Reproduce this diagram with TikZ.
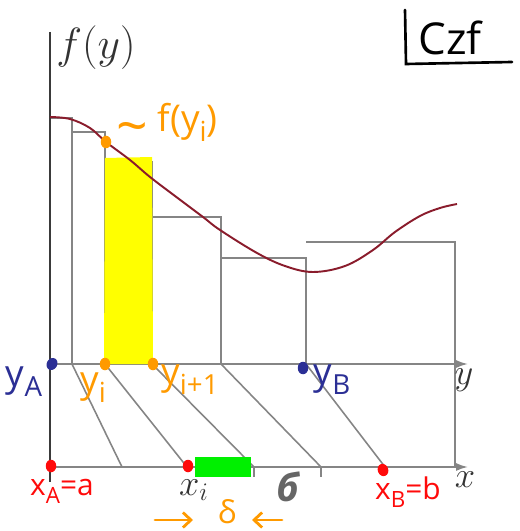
\documentclass[tikz,border=0pt]{standalone}
\usepackage{fontspec}
\newfontfamily\handfont{Open Sans}
\usetikzlibrary{arrows.meta, shapes.geometric}
\definecolor{hworange}{HTML}{FF9A00}
\definecolor{hwblue}{HTML}{2B2F95}
\definecolor{hwred}{HTML}{FF0A0A}
\definecolor{hlyellow}{HTML}{FFFF00}
\definecolor{hlgreen}{HTML}{00F000}
\definecolor{curvered}{HTML}{8A1C2C}
\definecolor{rectgray}{HTML}{858585}
\definecolor{axisgray}{HTML}{3A3A3A}
\newcommand{\hsub}[1]{\raisebox{-0.5ex}{\scalebox{0.75}{#1}}}
\begin{document}
\begin{tikzpicture}[x=0.2mm, y=-0.2mm,
  >={Latex[length=2.4mm, width=1.6mm]},
  every node/.style={inner sep=0pt},
  hand/.style={font=\handfont\fontsize{21}{23}\selectfont},
  handsmall/.style={font=\handfont\fontsize{17}{19}\selectfont},
  mathlbl/.style={font=\huge, text=black!80},
  stepline/.style={rectgray, line width=0.9pt},
  hwdot/.style={ellipse, minimum width=2.1mm, minimum height=2.5mm},
  hwarrow/.style={hworange, line width=1.6pt, line cap=round, -{Straight Barb[length=1.6mm, width=3mm]}},
]
\useasboundingbox (0,0) rectangle (519,531);

% Points on the axes
\coordinate (yA) at (50,364);
\coordinate (y1) at (72,364);
\coordinate (yi) at (105,364);
\coordinate (yip) at (152,364);
\coordinate (y4) at (221,364);
\coordinate (yB) at (306,364);
\coordinate (xA) at (50,467);
\coordinate (x1) at (122,467);
\coordinate (xi) at (187,467);
\coordinate (x3) at (254,467);
\coordinate (x4) at (321,467);
\coordinate (xB) at (385,467);

% Step function
\draw[stepline] (50,118) -- (72,118) -- (y1);
\draw[stepline] (72,132) -- (105,132) -- (yi);
\draw[stepline] (105,162) -- (152,162) -- (yip);
\draw[stepline] (152,217) -- (221,217) -- (y4);
\draw[stepline] (221,258) -- (306,258) -- (yB);
\draw[stepline] (306,242) -- (455,242) -- (455,467);

% Slanted lines y -> x
\draw[stepline] (y1) -- (x1);
\draw[stepline] (yi) -- (xi);
\draw[stepline] (yip) -- (x3);
\draw[stepline] (y4) -- (x4);
\draw[stepline] (yB) -- (xB);
\draw[stepline] (x3) -- ++(0,10);
\draw[stepline] (x4) -- ++(0,10);

% Axes
\draw[axisgray, line width=1.6pt] (50,32) -- (50,482);
\draw[rectgray, line width=1pt, ->] (yA) -- (468,364);
\draw[rectgray, line width=1pt, ->] (xA) -- (468,467);

% Highlights
\fill[hlyellow] (105,158) -- (152,157) -- (153,364) -- (104,364) -- cycle;
\fill[hlgreen] (195,457) rectangle (251,477);

% f(y)
\draw[curvered, line width=1.1pt] plot[smooth, tension=0.6] coordinates {
  (50,117) (70,119) (90,128) (106,142) (130,160) (150,177) (175,196)
  (203,217) (220,230) (257,253) (285,266) (313,272) (345,266) (373,250)
  (395,232) (420,216) (440,208) (457,204)};

% Dots
\node[hwdot, fill=hworange] (dfyi) at (106,142) {};
\node[hwdot, fill=hworange] (dyi) at (105,364) {};
\node[hwdot, fill=hworange] (dyip) at (153,364) {};
\node[hwdot, fill=hwblue, rotate=-30] (dyA) at (52,364) {};
\node[hwdot, fill=hwblue] (dyB) at (303,368) {};
\node[hwdot, fill=hwred] (dxA) at (51,466) {};
\node[hwdot, fill=hwred] (dxi) at (188,466) {};
\node[hwdot, fill=hwred, rotate=20] (dxB) at (383,470) {};

% Printed labels
\node[mathlbl, font=\Huge, anchor=west] (fylbl) at (56,48) {$f(y)$};
\node[mathlbl] (ylbl) at (464,380) {$y$};
\node[mathlbl] (xlbl) at (465,480) {$x$};
\node[mathlbl] (xilbl) at (194,490) {$x_i$};
\node[font=\handfont\bfseries\itshape\fontsize{22}{24}\selectfont, text=black!60] (blbl) at (288,487) {б};

% Handwritten labels
\node[hand, text=hworange, anchor=west] (fyi) at (116,124) {\raisebox{-0.7ex}{\scalebox{1.5}{\textasciitilde}}\ f(y\hsub{i})};
\node[hand, text=hworange] (yilbl) at (93,388) {y\hsub{i}};
\node[hand, text=hworange] (yiplbl) at (190,380) {y\hsub{i+1}};
\node[hand, text=hwblue] (yAlbl) at (24,382) {y\hsub{A}};
\node[hand, text=hwblue] (yBlbl) at (332,380) {y\hsub{B}};
\node[handsmall, text=hwred] (xAlbl) at (62,491) {x\hsub{A}=a};
\node[handsmall, text=hwred] (xBlbl) at (408,492) {x\hsub{B}=b};
\node[hand, font=\handfont\fontsize{18}{20}\selectfont, text=hworange] (delta) at (227,512) {δ};
\coordinate (ra) at (155,520);
\coordinate (la) at (282,520);
\draw[hwarrow] (ra) -- (193,520);
\draw[hwarrow] (la) -- (252,520);

% Tag
\node[hand, font=\handfont\fontsize{25}{27}\selectfont, anchor=west] (tag) at (418,38) {Czf};
\draw[line width=1.5pt, line cap=round] (405,10) -- (406,64) -- (512,62);
\end{tikzpicture}
\end{document}
